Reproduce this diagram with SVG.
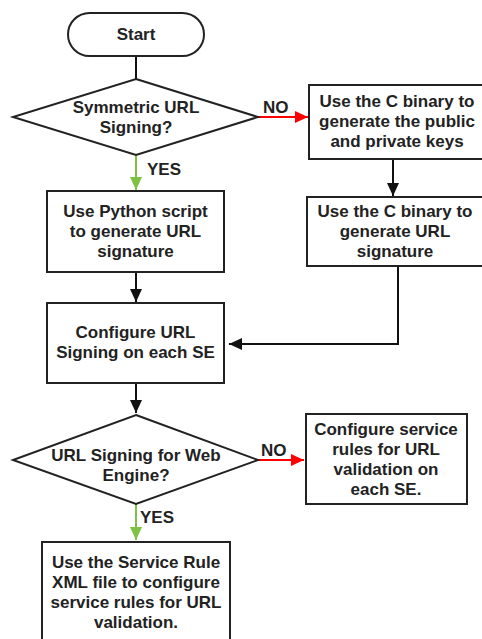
<svg xmlns="http://www.w3.org/2000/svg" width="482" height="639" viewBox="0 0 482 639">
<style>
.n{fill:#fff;stroke:#222;stroke-width:2}
.t{font-family:"Liberation Sans",Arial,sans-serif;font-weight:bold;font-size:17px;fill:#222;text-anchor:middle}
.l{font-family:"Liberation Sans",Arial,sans-serif;font-weight:bold;font-size:17px;fill:#222}
.c{fill:none;stroke:#111;stroke-width:2}
.g{fill:none;stroke:#7dc242;stroke-width:2}
.r{fill:none;stroke:#ff0000;stroke-width:2}
</style>
<defs>
<marker id="ab" markerUnits="userSpaceOnUse" markerWidth="14" markerHeight="14" viewBox="0 0 14 14" refX="13" refY="7" orient="auto"><path d="M0,1 L13,7 L0,13 Z" fill="#111"/></marker>
<marker id="ag" markerUnits="userSpaceOnUse" markerWidth="14" markerHeight="14" viewBox="0 0 14 14" refX="13" refY="7" orient="auto"><path d="M0,1 L13,7 L0,13 Z" fill="#7dc242"/></marker>
<marker id="ar" markerUnits="userSpaceOnUse" markerWidth="14" markerHeight="14" viewBox="0 0 14 14" refX="13" refY="7" orient="auto"><path d="M0,1 L13,7 L0,13 Z" fill="#ff0000"/></marker>
</defs>
<rect width="482" height="639" fill="#fff"/>
<g id="connectors">
<path class="c" d="M136,56 V79"/>
<path class="g" d="M136,155 V190" marker-end="url(#ag)"/>
<path class="r" d="M258,117 H308" marker-end="url(#ar)"/>
<path class="c" d="M393,159 V196" marker-end="url(#ab)"/>
<path class="c" d="M136,272 V302" marker-end="url(#ab)"/>
<path class="c" d="M398,266 V344 H229" marker-end="url(#ab)"/>
<path class="c" d="M136,383 V413" marker-end="url(#ab)"/>
<path class="r" d="M258,460 H304" marker-end="url(#ar)"/>
<path class="g" d="M136,504 V540" marker-end="url(#ag)"/>
<text class="l" x="147" y="175">YES</text>
<text class="l" x="263" y="113">NO</text>
<text class="l" x="261" y="456">NO</text>
<text class="l" x="140" y="523">YES</text>
</g>
<g id="start">
<rect class="n" x="68" y="13" width="136" height="43" rx="21.5"/>
<text class="t" x="136" y="40">Start</text>
</g>
<g id="decision1">
<polygon class="n" points="136,79 258,117 136,155 13,117"/>
<text class="t" x="136" y="113">Symmetric URL</text>
<text class="t" x="136" y="133">Signing?</text>
</g>
<g id="python">
<rect class="n" x="47" y="191" width="177" height="81"/>
<text class="t" x="135.5" y="217">Use Python script</text>
<text class="t" x="135.5" y="237">to generate URL</text>
<text class="t" x="135.5" y="257">signature</text>
</g>
<g id="keys">
<rect class="n" x="309" y="85" width="178" height="74"/>
<text class="t" x="397" y="107">Use the C binary to</text>
<text class="t" x="397" y="127">generate the public</text>
<text class="t" x="397" y="147">and private keys</text>
</g>
<g id="csig">
<rect class="n" x="307" y="197" width="180" height="69"/>
<text class="t" x="395" y="217">Use the C binary to</text>
<text class="t" x="395" y="237">generate URL</text>
<text class="t" x="395" y="257">signature</text>
</g>
<g id="configure">
<rect class="n" x="47" y="303" width="177" height="80"/>
<text class="t" x="135.5" y="338">Configure URL</text>
<text class="t" x="135.5" y="358">Signing on each SE</text>
</g>
<g id="decision2">
<polygon class="n" points="136,415 258,460 136,504 13,460"/>
<text class="t" x="136" y="461">URL Signing for Web</text>
<text class="t" x="136" y="481">Engine?</text>
</g>
<g id="rules">
<rect class="n" x="306" y="414" width="161" height="90"/>
<text class="t" x="386" y="435">Configure service</text>
<text class="t" x="386" y="455">rules for URL</text>
<text class="t" x="386" y="475">validation on</text>
<text class="t" x="386" y="495">each SE.</text>
</g>
<g id="xml">
<rect class="n" x="42" y="542" width="188" height="110"/>
<text class="t" x="136" y="568">Use the Service Rule</text>
<text class="t" x="136" y="588">XML file to configure</text>
<text class="t" x="136" y="608">service rules for URL</text>
<text class="t" x="136" y="628">validation.</text>
</g>
</svg>
